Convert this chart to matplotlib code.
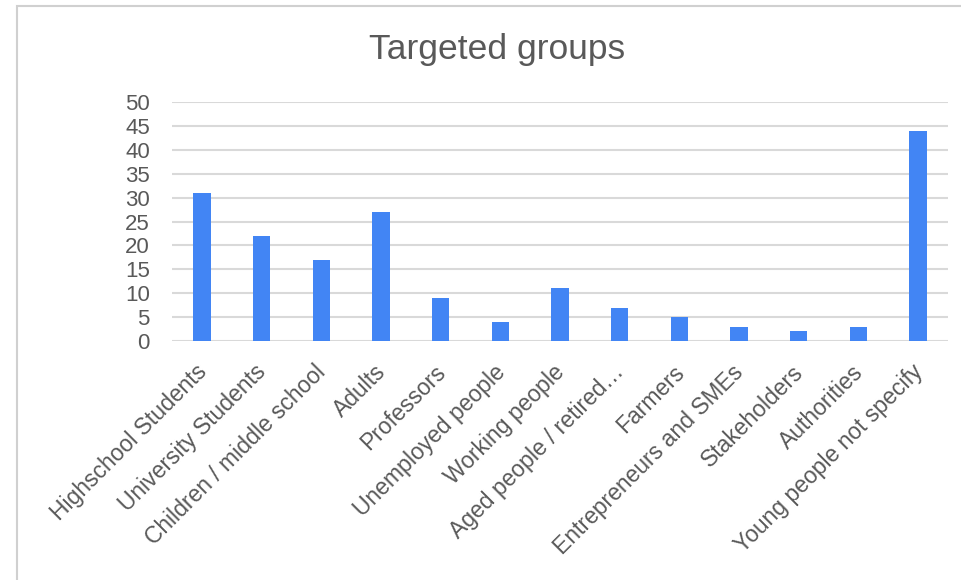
import matplotlib.pyplot as plt
import matplotlib.transforms as mtransforms
from matplotlib.patches import Rectangle

plt.rcParams['font.family'] = ['Liberation Sans', 'DejaVu Sans']

# Data
categories = ["Highschool Students", "University Students", "Children / middle school",
              "Adults", "Professors", "Unemployed people", "Working people",
              "Aged people / retired\u2026", "Farmers", "Entrepreneurs and SMEs",
              "Stakeholders", "Authorities", "Young people not specify"]
counts = [31, 22, 17, 27, 9, 4, 11, 7, 5, 3, 2, 3, 44]
y_ticks = [0, 5, 10, 15, 20, 25, 30, 35, 40, 45, 50]

BAR_COLOR = "#4285F4"
GRID_COLOR = "#d9d9d9"
TEXT_COLOR = "#595959"

fig = plt.figure(figsize=(9.62, 5.8), dpi=100)
ax = fig.add_axes([0.1788, 0.412, 0.8066, 0.412])

# light frame around the chart area
fig.patches.append(Rectangle((17 / 962, -0.1), 1.2, (580 - 6) / 580 + 0.1,
                             transform=fig.transFigure, fill=False,
                             edgecolor="#d0d0d0", linewidth=1.5))

x = range(len(categories))
ax.bar(x, counts, width=0.29, color=BAR_COLOR, zorder=3)

ax.set_ylim(0, 50)
ax.set_xlim(-0.5, len(categories) - 0.5)
ax.set_yticks(y_ticks)
ax.yaxis.grid(True, color=GRID_COLOR, linewidth=1.5, zorder=0)
ax.set_axisbelow(True)
for s in ax.spines.values():
    s.set_visible(False)
ax.tick_params(axis='both', length=0, labelsize=16, labelcolor=TEXT_COLOR)
ax.tick_params(axis='y', pad=16)
ax.tick_params(axis='x', pad=14, labelsize=16.5)
ax.set_xticks(list(x))
ax.set_xticklabels(categories, rotation=45, ha='right', va='top',
                   rotation_mode='anchor')
# nudge the rotated labels a little to the left
shift = mtransforms.ScaledTranslation(-5 / 72, 0, fig.dpi_scale_trans)
for lbl in ax.get_xticklabels():
    lbl.set_transform(lbl.get_transform() + shift)

fig.text(0.517, 0.915, "Targeted groups", ha='center', va='center',
         fontsize=25.5, color=TEXT_COLOR)

fig.savefig("out.png", dpi=100)
